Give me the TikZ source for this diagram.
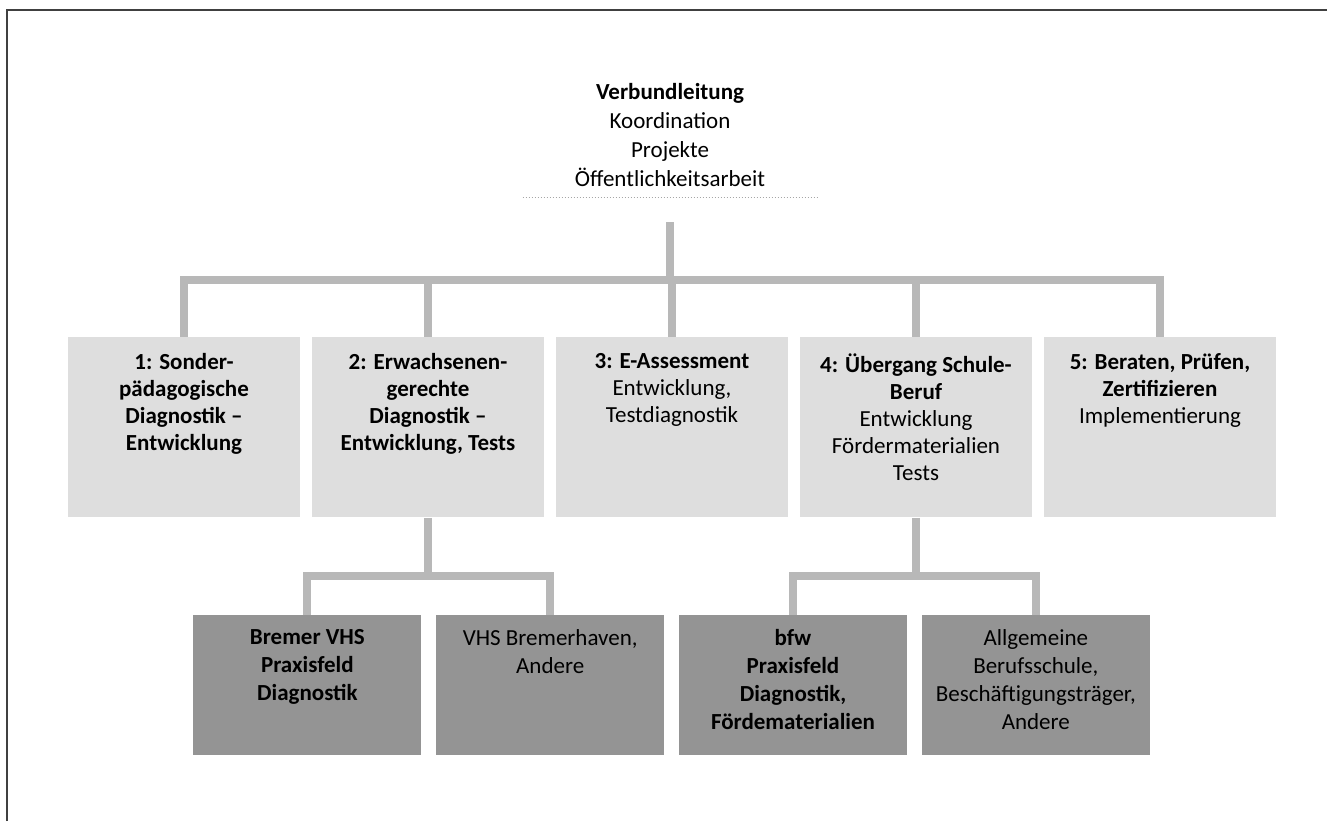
\documentclass[tikz,border=0pt]{standalone}
\usepackage{fontspec}
\setmainfont{Carlito}
\usetikzlibrary{positioning}
\newcommand{\celltext}[2]{\parbox[t][#1][t]{106pt}{\centering #2}}

\begin{document}
\begin{tikzpicture}
  [lead/.style={align=center, inner sep=5pt, minimum width=147pt,
  font=\fontsize{11.5}{14.5}\selectfont},
  area/.style={rectangle, fill=black!13, inner xsep=5pt, inner ysep=8pt,
  minimum width=116pt, font=\fontsize{11.5}{13.5}\selectfont},
  site/.style={rectangle, fill=black!42, inner xsep=4pt, inner ysep=7pt,
  minimum width=114pt, font=\fontsize{11.5}{14}\selectfont},
  link/.style={draw, line width=4pt, black!28},
  framerule/.style={draw, black!75, line width=0.6pt}]

  \useasboundingbox (0,0) rectangle (663.5pt,-410.5pt);
  \draw[framerule] (3.5pt,-410.5pt) -- (3.5pt,-5pt) -- (663.5pt,-5pt);

  \node [lead, anchor=south] (head) at (335pt,-98.5pt)
    {\textbf{Verbundleitung}\\Koordination\\Projekte\\Öffentlichkeitsarbeit};
  \draw [black!35, densely dotted, line width=0.5pt]
    (head.south west) -- (head.south east);

  \matrix [anchor=north, column sep=6pt] at (336pt,-165pt)
  {
    \node [area](a1){\celltext{74pt}{\textbf{1: Sonder-\\pädagogische\\Diagnostik --\\Entwicklung}}}; &
    \node [area](a2){\celltext{74pt}{\textbf{2: Erwachsenen-\\gerechte\\Diagnostik --\\Entwicklung, Tests}}}; &
    \node [area](a3){\celltext{74pt}{\textbf{3: E-Assessment}\\Entwicklung,\\Testdiagnostik}}; &
    \node [area](a4){\celltext{74pt}{\textbf{4: Übergang Schule-\\Beruf}\\Entwicklung\\Fördermaterialien\\Tests}}; &
    \node [area](a5){\celltext{74pt}{\textbf{5: Beraten, Prüfen,\\Zertifizieren}\\Implementierung}}; \\
  };

  \node [site, anchor=north west] (s1) at (96.5pt,-307.5pt)
    {\celltext{56pt}{\textbf{Bremer VHS\\Praxisfeld\\Diagnostik}}};
  \node [site, right=7pt of s1] (s2)
    {\celltext{56pt}{VHS Bremerhaven,\\Andere}};
  \node [site, right=7pt of s2] (s3)
    {\celltext{56pt}{\textbf{bfw\\Praxisfeld\\Diagnostik,\\Fördematerialien}}};
  \node [site, right=7pt of s3] (s4)
    {\celltext{56pt}{Allgemeine\\Berufsschule,\\Beschäftigungsträger,\\Andere}};

  \coordinate (hub) at (head.south |- 0,-140pt);
  \coordinate (fork2) at (a2.south |- 0,-288pt);
  \coordinate (fork4) at (a4.south |- 0,-288pt);

  \begin{scope}[every path/.style=link]
    \path ([yshift=-12.5pt]head.south) -- (hub);
    \path (hub) -| (a1.north);
    \path (hub) -| (a2.north);
    \path (hub) -- (a3.north |- hub) -- (a3.north);
    \path (hub) -| (a4.north);
    \path (hub) -| (a5.north);
    \path (a2.south) -- (fork2);
    \path (fork2) -| (s1.north);
    \path (fork2) -| (s2.north);
    \path (a4.south) -- (fork4);
    \path (fork4) -| (s3.north);
    \path (fork4) -| (s4.north);
  \end{scope}
\end{tikzpicture}
\end{document}
